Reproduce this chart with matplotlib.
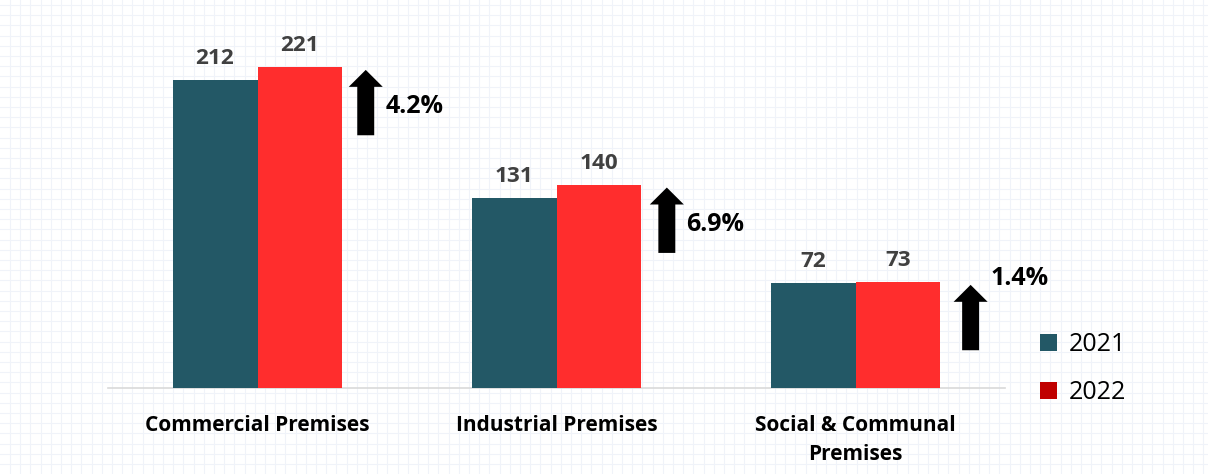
import matplotlib
matplotlib.use("Agg")
import matplotlib.pyplot as plt
from matplotlib.patches import Patch
import numpy as np

categories = ["Commercial Premises", "Industrial Premises", "Social & Communal\nPremises"]
values_2021 = [212, 131, 72]
values_2022 = [221, 140, 73]
pct_labels = ["4.2%", "6.9%", "1.4%"]
series_labels = ["2021", "2022"]

C2021 = "#235866"
C2022 = "#FF2D2D"
LEG2022 = "#C00000"

W, H = 1208, 474
fig = plt.figure(figsize=(W / 100, H / 100), dpi=100)
fig.patch.set_facecolor("white")

# background faint grid
bg = fig.add_axes([0, 0, 1, 1], zorder=-5)
bg.set_xlim(0, W)
bg.set_ylim(H, 0)
bg.axis("off")
for gx in np.arange(10, W, 10.2):
    bg.axvline(gx, color="#F0F3F9", lw=0.8)
for gy in np.arange(5, H, 10.2):
    bg.axhline(gy, color="#F0F3F9", lw=0.8)

left, right = 108, 1005
base_y, top_y = 388, 30
ax = fig.add_axes([left / W, (H - base_y) / H, (right - left) / W, (base_y - top_y) / H])
ax.set_facecolor("none")
ax.set_xlim(-0.5, 2.5)
ax.set_ylim(0, (base_y - top_y) / 1.4525)

x = np.arange(len(categories))
bw = 0.284
ax.bar(x - bw / 2, values_2021, width=bw, color=C2021, zorder=3)
ax.bar(x + bw / 2, values_2022, width=bw, color=C2022, zorder=3)

lab_font = dict(family="Open Sans", fontweight="bold", fontsize=16.2, color="#404040")
for xi, v in zip(x - bw / 2, values_2021):
    ax.annotate(str(v), (xi, v), xytext=(0, 11.5), textcoords="offset points",
                ha="center", va="baseline", **lab_font)
for xi, v in zip(x + bw / 2, values_2022):
    ax.annotate(str(v), (xi, v), xytext=(0, 11.5), textcoords="offset points",
                ha="center", va="baseline", **lab_font)

arrow_dx = [0.362, 0.369, 0.385]
pct_dy = [-27.5, -27.5, 2.5]
for i, (v, lab) in enumerate(zip(values_2022, pct_labels)):
    ax_x = x[i] + arrow_dx[i]
    ax.annotate("", xy=(ax_x, v - 2), xytext=(ax_x, v - 47),
                arrowprops=dict(arrowstyle="simple,head_width=24.5,head_length=12.2,tail_width=12.2",
                                mutation_scale=1, color="black", shrinkA=0, shrinkB=0, lw=0),
                zorder=4)
    ax.annotate(lab, (ax_x, v + pct_dy[i]), xytext=(14, 0), textcoords="offset points",
                ha="left", va="center", family="Open Sans", fontweight="bold",
                fontsize=18, color="black")

ax.set_yticks([])
ax.set_xticks(x)
ax.set_xticklabels(categories, family="Open Sans", fontweight="bold", fontsize=15, color="black",
                   linespacing=1.5)
ax.tick_params(axis="x", length=0, pad=19.5)
for s in ["top", "right", "left"]:
    ax.spines[s].set_visible(False)
ax.spines["bottom"].set_color("#D9D9D9")
ax.spines["bottom"].set_linewidth(1.2)

handles = [Patch(facecolor=C2021, edgecolor="none"), Patch(facecolor=LEG2022, edgecolor="none")]
fig.legend(handles, series_labels, loc="upper left",
           bbox_to_anchor=(1040 / W, (H - 332) / H), frameon=False,
           prop=dict(family="Open Sans", size=18),
           handlelength=0.68, handleheight=0.68, handletextpad=0.45,
           labelspacing=0.92, borderaxespad=0, borderpad=0)

fig.savefig("out.png", dpi=100, facecolor="white")
